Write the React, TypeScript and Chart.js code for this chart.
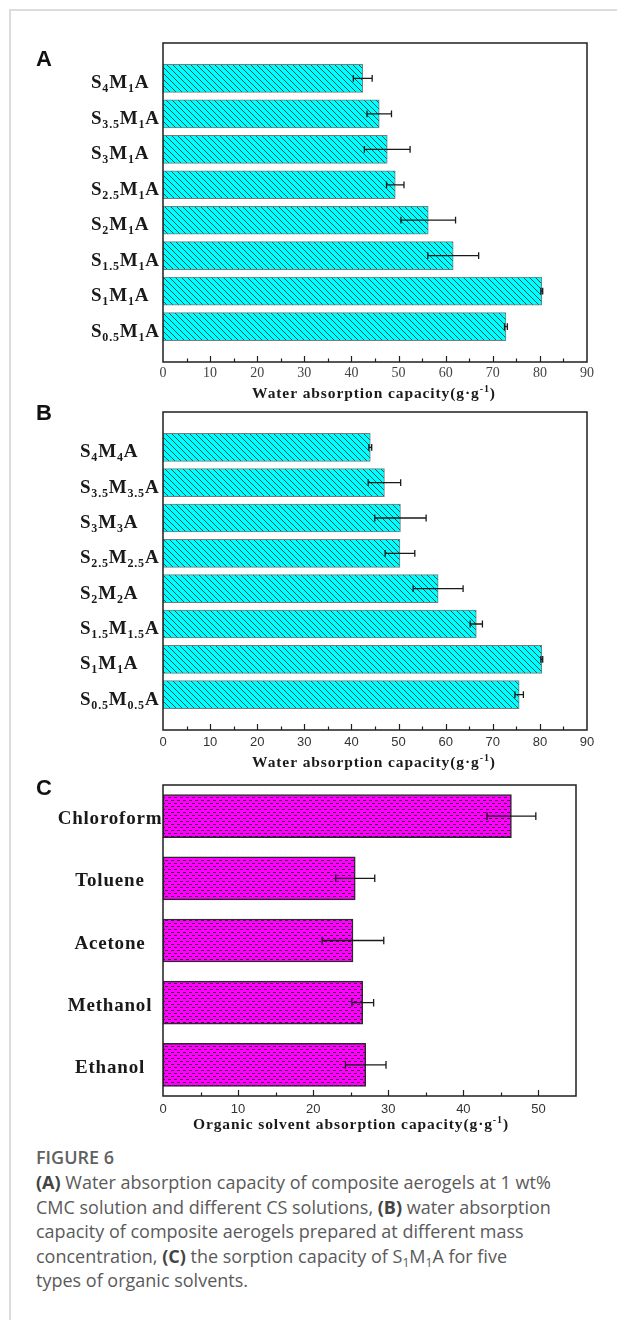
import React, { useEffect, useRef } from 'react';
import { Chart, registerables } from 'chart.js';

Chart.register(...registerables);

// ---------- data ----------
const labelsA = ['S_{4}M_{1}A', 'S_{3.5}M_{1}A', 'S_{3}M_{1}A', 'S_{2.5}M_{1}A', 'S_{2}M_{1}A', 'S_{1.5}M_{1}A', 'S_{1}M_{1}A', 'S_{0.5}M_{1}A'];
const valuesA = [42.4, 45.9, 47.6, 49.3, 56.3, 61.6, 80.4, 72.8];
const errorsA = [2.0, 2.6, 4.85, 1.85, 5.8, 5.4, 0.2, 0.3];

const labelsB = ['S_{4}M_{4}A', 'S_{3.5}M_{3.5}A', 'S_{3}M_{3}A', 'S_{2.5}M_{2.5}A', 'S_{2}M_{2}A', 'S_{1.5}M_{1.5}A', 'S_{1}M_{1}A', 'S_{0.5}M_{0.5}A'];
const valuesB = [44.0, 47.0, 50.4, 50.3, 58.4, 66.5, 80.4, 75.6];
const errorsB = [0.3, 3.45, 5.45, 3.15, 5.3, 1.3, 0.2, 0.9];

const labelsC = ['Chloroform', 'Toluene', 'Acetone', 'Methanol', 'Ethanol'];
const valuesC = [46.4, 25.6, 25.3, 26.6, 27.0];
const errorsC = [3.25, 2.6, 4.1, 1.45, 2.7];

const xRangeAB = [0, 90];
const xRangeC = [0, 55];
const xStepMajor = 10;
const xStepMinor = 5;

const titleAB = 'Water absorption capacity(g·g^{-1})';
const titleC = 'Organic solvent absorption capacity(g·g^{-1})';

// ---------- rich text ----------
type Seg = { t: string; k: 'n' | 'sub' | 'sup' };
function parseRich(s: string): Seg[] {
  const out: Seg[] = [];
  const re = /([_^])\{([^}]*)\}/g;
  let last = 0;
  let m: RegExpExecArray | null;
  while ((m = re.exec(s))) {
    if (m.index > last) out.push({ t: s.slice(last, m.index), k: 'n' });
    out.push({ t: m[2], k: m[1] === '_' ? 'sub' : 'sup' });
    last = re.lastIndex;
  }
  if (last < s.length) out.push({ t: s.slice(last), k: 'n' });
  return out;
}

interface RichStyle {
  size: number; subSize: number; family: string; weight: string; color: string;
  spacing: number; align: 'left' | 'center' | 'right'; subDy: number; supDy: number;
}

function drawRich(ctx: CanvasRenderingContext2D, s: string, x: number, y: number, st: RichStyle) {
  const segs = parseRich(s);
  const fontFor = (k: string) => `${st.weight} ${k === 'n' ? st.size : st.subSize}px ${st.family}`;
  ctx.save();
  (ctx as any).letterSpacing = st.spacing + 'px';
  let w = 0;
  const ws = segs.map((sg) => {
    ctx.font = fontFor(sg.k);
    const m = ctx.measureText(sg.t).width;
    w += m;
    return m;
  });
  let cx = st.align === 'left' ? x : st.align === 'right' ? x - w : x - w / 2;
  ctx.fillStyle = st.color;
  ctx.textBaseline = 'alphabetic';
  ctx.textAlign = 'left';
  segs.forEach((sg, i) => {
    ctx.font = fontFor(sg.k);
    const dy = sg.k === 'sub' ? st.subDy : sg.k === 'sup' ? -st.supDy : 0;
    ctx.fillText(sg.t, cx, y + dy);
    cx += ws[i];
  });
  ctx.restore();
}

// ---------- patterns ----------
function hatchPattern(ctx: CanvasRenderingContext2D) {
  const s = 6;
  const c = document.createElement('canvas');
  c.width = s; c.height = s;
  const g = c.getContext('2d')!;
  g.fillStyle = '#00ffff';
  g.fillRect(0, 0, s, s);
  g.strokeStyle = '#002222';
  g.lineWidth = 0.75;
  g.beginPath();
  g.moveTo(-1, -1); g.lineTo(s + 1, s + 1);
  g.moveTo(-1, s - 1); g.lineTo(1, s + 1);
  g.moveTo(s - 1, -1); g.lineTo(s + 1, 1);
  g.stroke();
  return ctx.createPattern(c, 'repeat');
}

function dashPattern(ctx: CanvasRenderingContext2D) {
  const w = 6, h = 6;
  const c = document.createElement('canvas');
  c.width = w; c.height = h;
  const g = c.getContext('2d')!;
  g.fillStyle = '#ff00ff';
  g.fillRect(0, 0, w, h);
  g.fillStyle = 'rgba(40,0,40,0.85)';
  g.fillRect(0, 1, 3, 1);
  g.fillRect(3, 4, 3, 1);
  return ctx.createPattern(c, 'repeat');
}

// ---------- panel config ----------
interface PanelCfg {
  key: string;
  letter: string;
  letterY: number;
  top: number;
  height: number;
  padTop: number;
  padRight: number;
  axisH: number;
  tickPad: number;
  tickFont: { family: string; size: number };
  tickColor: string;
  labels: string[];
  values: number[];
  errors: number[];
  range: number[];
  linearIndex: boolean;
  kind: 'hatch' | 'dash';
  barThickness: number;
  labelX: number;
  labelAlign: 'left' | 'center' | 'right';
  labelDy: number;
  title: string;
  titleX: number;
  titleDy: number;
}

const panels: PanelCfg[] = [
  {
    key: 'A', letter: 'A', letterY: 36, top: 30, height: 375, padTop: 13, padRight: 30, axisH: 43, tickPad: 3,
    tickFont: { family: '"Liberation Serif", serif', size: 14 }, tickColor: '#444',
    labels: labelsA, values: valuesA, errors: errorsA, range: xRangeAB, linearIndex: true, kind: 'hatch',
    barThickness: 28, labelX: 91, labelAlign: 'left', labelDy: 10,
    title: titleAB, titleX: 374, titleDy: 36,
  },
  {
    key: 'B', letter: 'B', letterY: 20, top: 400, height: 372, padTop: 12, padRight: 30, axisH: 42, tickPad: 5,
    tickFont: { family: '"Liberation Sans", Arial, sans-serif', size: 13 }, tickColor: '#333',
    labels: labelsB, values: valuesB, errors: errorsB, range: xRangeAB, linearIndex: true, kind: 'hatch',
    barThickness: 28, labelX: 80, labelAlign: 'left', labelDy: 10,
    title: titleAB, titleX: 374, titleDy: 37,
  },
  {
    key: 'C', letter: 'C', letterY: 22.5, top: 772, height: 366, padTop: 13, padRight: 41, axisH: 42, tickPad: 6,
    tickFont: { family: '"Liberation Sans", Arial, sans-serif', size: 13 }, tickColor: '#333',
    labels: labelsC, values: valuesC, errors: errorsC, range: xRangeC, linearIndex: false, kind: 'dash',
    barThickness: 43, labelX: 110, labelAlign: 'center', labelDy: 8,
    title: titleC, titleX: 351, titleDy: 33,
  },
];

function makeDeco(cfg: PanelCfg) {
  return {
    id: 'deco' + cfg.key,
    afterDatasetsDraw(chart: any) {
      const { ctx, chartArea: ca } = chart;
      const xs = chart.scales.x;
      const meta = chart.getDatasetMeta(0);
      ctx.save();
      // error bars
      ctx.strokeStyle = '#1a1a1a';
      ctx.lineWidth = 1.3;
      const cap = cfg.kind === 'hatch' ? 3.4 : 3.8;
      meta.data.forEach((el: any, i: number) => {
        const v = cfg.values[i];
        const e = cfg.errors[i];
        const x1 = xs.getPixelForValue(v - e);
        const x2 = xs.getPixelForValue(v + e);
        const y = el.y;
        ctx.beginPath();
        ctx.moveTo(x1, y); ctx.lineTo(x2, y);
        ctx.moveTo(x1, y - cap); ctx.lineTo(x1, y + cap);
        ctx.moveTo(x2, y - cap); ctx.lineTo(x2, y + cap);
        ctx.stroke();
      });
      // frame
      ctx.strokeStyle = '#1f1f1f';
      ctx.lineWidth = 1.5;
      ctx.strokeRect(ca.left, ca.top, ca.right - ca.left, ca.bottom - ca.top);
      // inward ticks
      ctx.lineWidth = 1.2;
      for (let v = cfg.range[0] + xStepMinor; v < cfg.range[1] - 1e-6; v += xStepMinor) {
        const px = Math.round(xs.getPixelForValue(v)) + 0.5;
        const len = Math.abs(v % xStepMajor) < 1e-6 ? 6 : 3.5;
        ctx.beginPath();
        ctx.moveTo(px, ca.bottom);
        ctx.lineTo(px, ca.bottom - len);
        ctx.stroke();
      }
      ctx.restore();
    },
    afterDraw(chart: any) {
      const { ctx, chartArea: ca } = chart;
      const meta = chart.getDatasetMeta(0);
      const labelStyle: RichStyle = {
        size: 19, subSize: 12, family: '"Liberation Serif", "Times New Roman", serif', weight: 'bold',
        color: '#1a1a1a', spacing: 0.8, align: cfg.labelAlign, subDy: 4, supDy: 6,
      };
      meta.data.forEach((el: any, i: number) => {
        drawRich(ctx, cfg.labels[i], cfg.labelX, el.y + cfg.labelDy, labelStyle);
      });
      drawRich(ctx, cfg.title, cfg.titleX, ca.bottom + cfg.titleDy, {
        size: 15.5, subSize: 10, family: '"Liberation Serif", "Times New Roman", serif', weight: 'bold',
        color: '#1a1a1a', spacing: 0.9, align: 'center', subDy: 3, supDy: 6,
      });
      ctx.save();
      ctx.font = 'bold 22px "Liberation Sans", Arial, sans-serif';
      ctx.fillStyle = '#111';
      ctx.textBaseline = 'alphabetic';
      ctx.textAlign = 'left';
      ctx.fillText(cfg.letter, 36, cfg.letterY);
      ctx.restore();
    },
  };
}

function Panel({ cfg }: { cfg: PanelCfg }) {
  const ref = useRef<HTMLCanvasElement | null>(null);
  useEffect(() => {
    const canvas = ref.current!;
    const c2d = canvas.getContext('2d')!;
    const fill = cfg.kind === 'hatch' ? hatchPattern(c2d) : dashPattern(c2d);
    const data = cfg.linearIndex
      ? cfg.values.map((v, i) => ({ x: v, y: i }))
      : cfg.values;
    const yScale: any = cfg.linearIndex
      ? { type: 'linear', min: -1, max: cfg.labels.length, reverse: true, display: false, offset: false, grid: { offset: false } }
      : { type: 'category', display: false };
    const chart = new Chart(canvas, {
      type: 'bar',
      data: {
        labels: cfg.linearIndex ? undefined : cfg.labels,
        datasets: [
          {
            data: data as any,
            backgroundColor: fill as any,
            borderColor: cfg.kind === 'hatch' ? '#7a7a7a' : '#2a2a2a',
            borderWidth: cfg.kind === 'hatch' ? 1 : 1.5,
            borderSkipped: false,
            barThickness: cfg.barThickness,
          },
        ],
      } as any,
      options: {
        indexAxis: 'y',
        responsive: false,
        maintainAspectRatio: false,
        animation: false,
        events: [],
        layout: { padding: { left: 163, right: cfg.padRight, top: cfg.padTop, bottom: 0 } },
        plugins: { legend: { display: false }, tooltip: { enabled: false } },
        scales: {
          x: {
            type: 'linear',
            position: 'bottom',
            min: cfg.range[0],
            max: cfg.range[1],
            grid: { display: false, drawTicks: false },
            border: { display: false },
            ticks: {
              stepSize: xStepMajor,
              includeBounds: false,
              padding: cfg.tickPad,
              color: cfg.tickColor,
              font: cfg.tickFont,
              maxRotation: 0,
              autoSkip: false,
              callback: (v: any) => (Math.abs(Number(v) % xStepMajor) < 1e-6 ? String(v) : ''),
            },
            afterFit: (s: any) => { s.height = cfg.axisH; },
          },
          y: yScale,
        },
      } as any,
      plugins: [makeDeco(cfg)],
    });
    return () => chart.destroy();
  }, [cfg]);
  return (
    <canvas
      ref={ref}
      width={617}
      height={cfg.height}
      style={{ position: 'absolute', left: 0, top: cfg.top, width: 617, height: cfg.height }}
    />
  );
}

export default function App() {
  const capStyle: React.CSSProperties = {
    fontSize: 18,
    lineHeight: '24.5px',
    marginTop: 1,
  };
  const subStyle: React.CSSProperties = { fontSize: 12, lineHeight: 0, verticalAlign: 'baseline', position: 'relative', top: 4 };
  return (
    <div style={{ position: 'absolute', left: 0, top: 0, width: 617, height: 1320, background: '#fff', overflow: 'hidden' }}>
      <div
        style={{
          position: 'absolute', left: 9, top: 9, width: 620, height: 1320,
          borderTop: '2px solid #dcdcdc', borderLeft: '2px solid #dcdcdc',
        }}
      />
      {panels.map((p) => (
        <Panel key={p.key} cfg={p} />
      ))}
      <div
        style={{
          position: 'absolute', left: 36, top: 1145, width: 575,
          fontFamily: '"Open Sans", "Noto Sans", sans-serif', color: '#5a5a5a',
        }}
      >
        <div style={{ fontSize: 18, fontWeight: 600, lineHeight: '24px', color: '#616161' }}>FIGURE 6</div>
        <div style={capStyle}>
          <b style={{ color: '#444' }}>(A)</b> Water absorption capacity of composite aerogels at 1 wt%<br />
          CMC solution and different CS solutions, <b style={{ color: '#444' }}>(B)</b> water absorption<br />
          capacity of composite aerogels prepared at different mass<br />
          concentration, <b style={{ color: '#444' }}>(C)</b> the sorption capacity of S<span style={subStyle}>1</span>M<span style={subStyle}>1</span>A for five<br />
          types of organic solvents.
        </div>
      </div>
    </div>
  );
}
